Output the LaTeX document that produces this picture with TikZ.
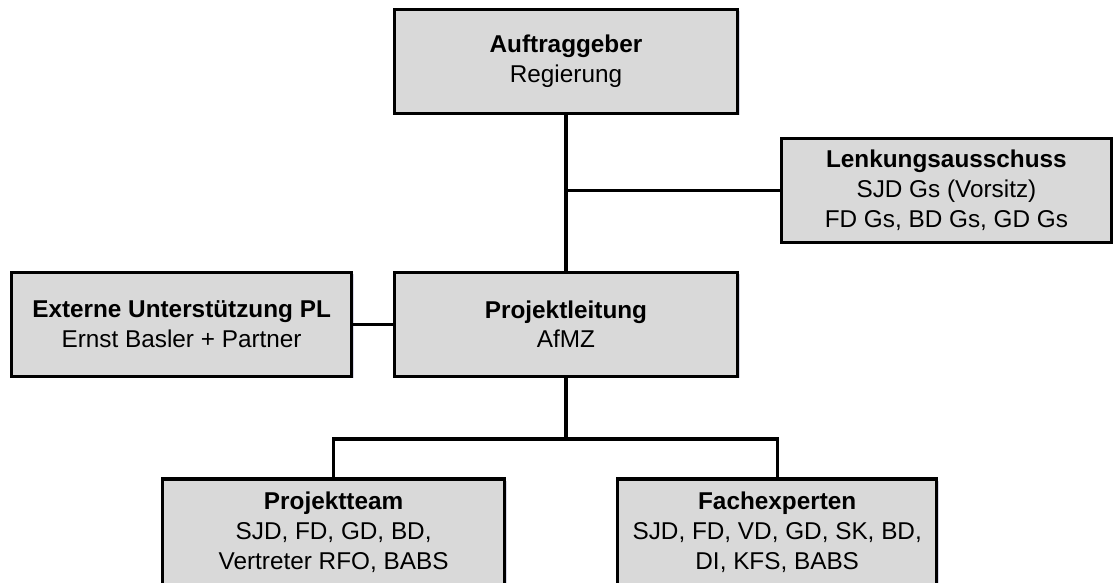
\documentclass[tikz,border=0pt]{standalone}
\usepackage{fontspec}
\setmainfont{Liberation Sans}
\usetikzlibrary{positioning,shadows}
\definecolor{boxgray}{HTML}{D9D9D9}

\begin{document}
\begin{tikzpicture}[
    every node/.style={font=\fontsize{17.3}{21.3}\selectfont},
    orgbox/.style={rectangle, draw=black, fill=boxgray, line width=2.3pt, align=center, minimum height=2.6cm,
        drop shadow={shadow xshift=0.05cm, shadow yshift=-0.05cm, fill=blue!25!gray, opacity=0.25}},
    link/.style={line width=2.3pt}
]
\useasboundingbox (0,0) rectangle (27.9,14.575);

% Leitung
\node[orgbox, minimum width=8.58cm] (auftrag) at (14.15,13.04) {\textbf{Auftraggeber}\\Regierung};
\node[orgbox, minimum width=8.25cm] (lenkung) at (23.66,9.82) {\textbf{Lenkungsausschuss}\\SJD Gs (Vorsitz)\\FD Gs, BD Gs, GD Gs};

% Projektebene
\node[orgbox, minimum width=8.5cm] (extern) at (4.54,6.47) {\textbf{Externe Unterstützung PL}\\Ernst Basler + Partner};
\node[orgbox, minimum width=8.58cm] (leitung) at (14.15,6.47) {\textbf{Projektleitung}\\AfMZ};

% Teams
\node[orgbox, minimum width=8.55cm, minimum height=2.65cm] (team) at (8.34,1.275) {\textbf{Projektteam}\\SJD, FD, GD, BD,\\Vertreter RFO, BABS};
\node[orgbox, minimum width=7.98cm, minimum height=2.65cm] (experten) at (19.43,1.275) {\textbf{Fachexperten}\\SJD, FD, VD, GD, SK, BD,\\DI, KFS, BABS};

\coordinate (bus) at (14.15,3.6);

% Verbindungen
\draw[link] (auftrag) -- (leitung);
\draw[link] (lenkung.west) -- (lenkung.west -| auftrag.south);
\draw[link] (extern) -- (leitung);
\draw[link] (leitung) -- (bus);
\draw[link] (bus) -| (team.north);
\draw[link] (bus) -| (experten.north);

\end{tikzpicture}
\end{document}
